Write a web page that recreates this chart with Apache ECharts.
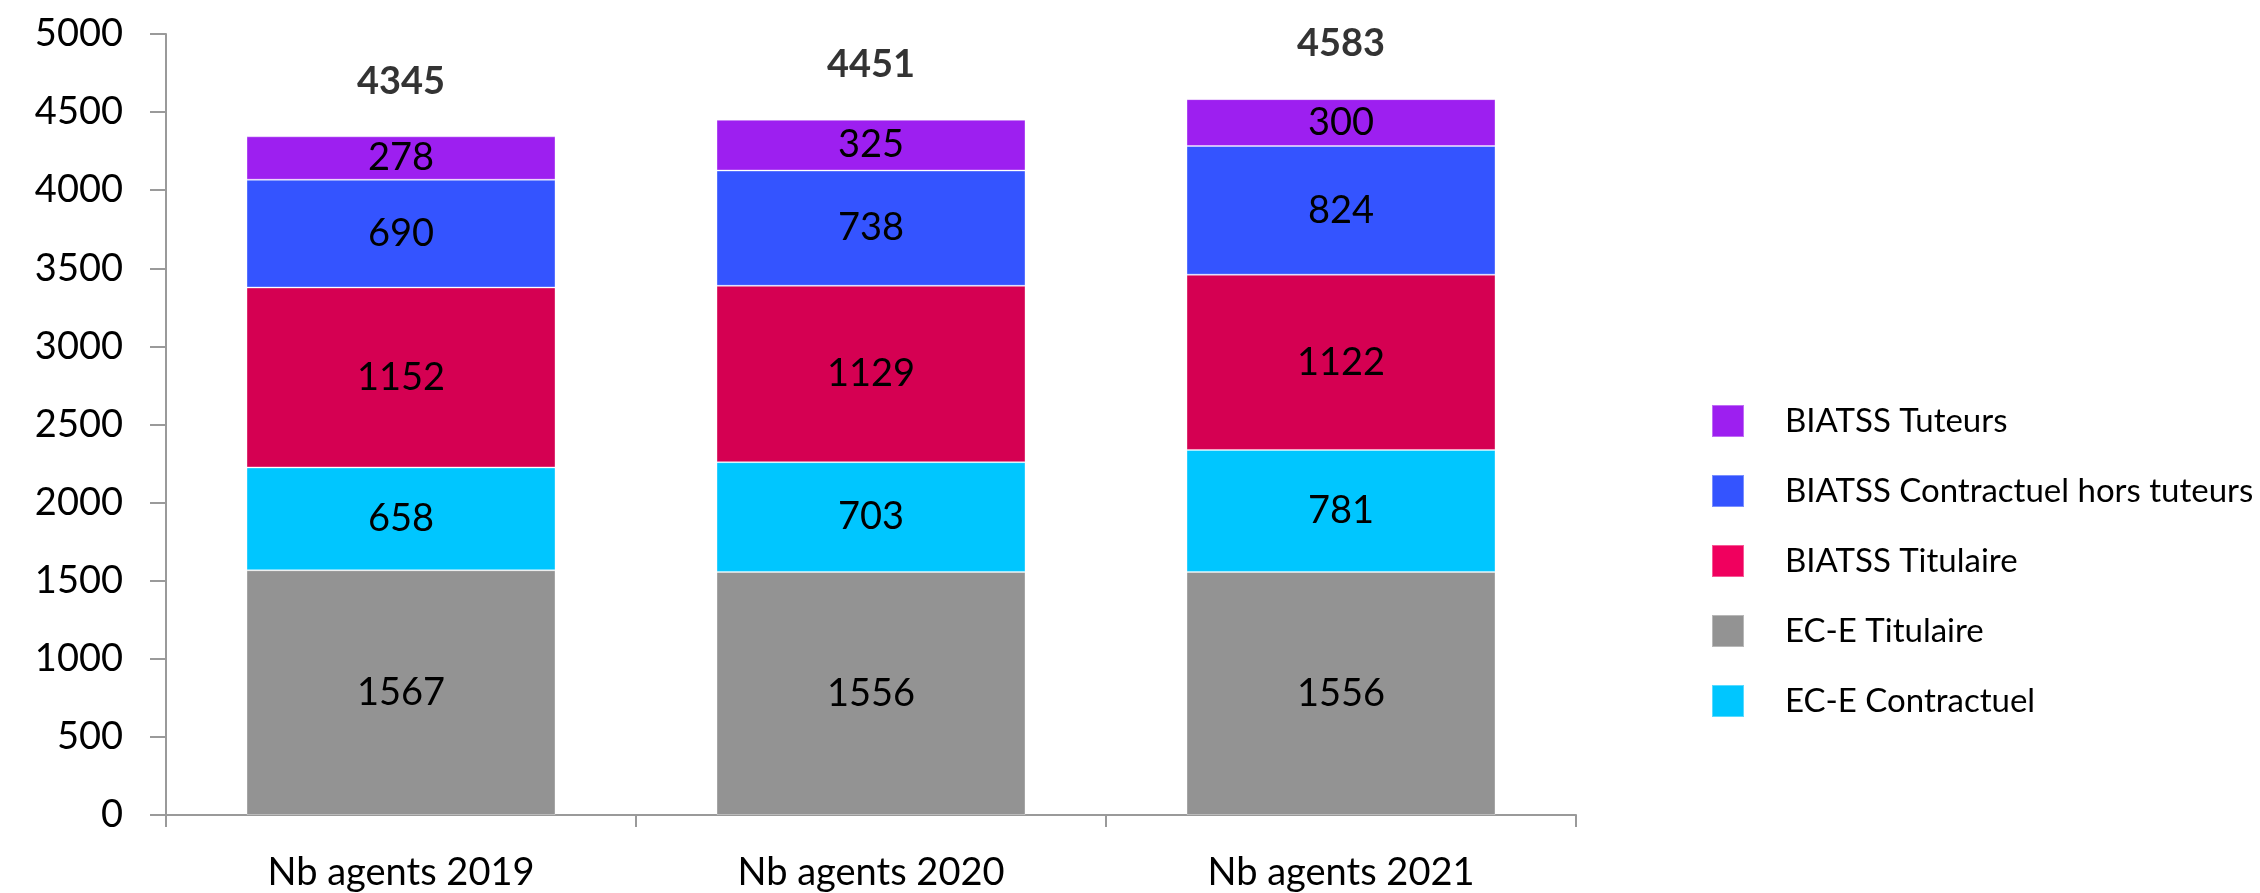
<!DOCTYPE html>
<html>
<head>
<meta charset="utf-8">
<script src="https://cdn.jsdelivr.net/npm/echarts@6/dist/echarts.min.js"></script>
<style>
  html, body { margin: 0; padding: 0; background: #fff; }
  #chart { width: 2260px; height: 893px; }
</style>
</head>
<body>
<div id="chart"></div>
<script>
// effectifs par catégorie
const categories = ["Nb agents 2019", "Nb agents 2020", "Nb agents 2021"];
const eceTitulaire = [1567, 1556, 1556];
const eceContractuel = [658, 703, 781];
const biatssTitulaire = [1152, 1129, 1122];
const biatssContractuel = [690, 738, 824];
const biatssTuteurs = [278, 325, 300];
const totals = [4345, 4451, 4583];

const FONT = "Lato";

const chart = echarts.init(document.getElementById("chart"));

function stackSeries(name, data, color) {
  return {
    name: name,
    type: "bar",
    stack: "total",
    data: data,
    barWidth: 309,
    itemStyle: {color: color, borderColor: "rgba(255,255,255,0.35)", borderWidth: 1},
    label: {show: true, position: "inside", color: "#000", fontFamily: FONT, fontSize: 38},
  };
}

chart.setOption({
  animation: false,
  textStyle: {fontFamily: FONT},
  grid: {left: 166, right: 684, top: 34, bottom: 78},
  legend: {
    orient: "vertical",
    left: 1706,
    top: 399,
    itemWidth: 32,
    itemHeight: 32,
    itemGap: 36,
    icon: "rect",
    textStyle: {fontFamily: FONT, fontSize: 33, color: "#000", lineHeight: 32, padding: [0, 0, 0, 36]},
    data: [
      "BIATSS Tuteurs",
      "BIATSS Contractuel hors tuteurs",
      {name: "BIATSS Titulaire", itemStyle: {color: "#F0005E"}},
      "EC-E Titulaire",
      "EC-E Contractuel",
    ],
  },
  xAxis: {
    type: "category",
    data: categories,
    axisLine: {lineStyle: {color: "#9a9a9a", width: 2}},
    axisTick: {show: true, length: 12, lineStyle: {color: "#9a9a9a", width: 2}},
    axisLabel: {color: "#000", fontFamily: FONT, fontSize: 38, margin: 39},
  },
  yAxis: {
    type: "value",
    min: 0,
    max: 5000,
    interval: 500,
    splitLine: {show: false},
    axisLine: {show: true, lineStyle: {color: "#9a9a9a", width: 2}},
    axisTick: {show: true, length: 16, lineStyle: {color: "#9a9a9a", width: 2}},
    axisLabel: {color: "#000", fontFamily: FONT, fontSize: 38, margin: 43, formatter: v => String(v)},
  },
  series: [
    stackSeries("EC-E Titulaire", eceTitulaire, "#939393"),
    stackSeries("EC-E Contractuel", eceContractuel, "#00C6FF"),
    stackSeries("BIATSS Titulaire", biatssTitulaire, "#D50052"),
    stackSeries("BIATSS Contractuel hors tuteurs", biatssContractuel, "#3454FF"),
    stackSeries("BIATSS Tuteurs", biatssTuteurs, "#9D1FF0"),
    {
      name: "Total",
      type: "scatter",
      data: totals,
      symbolSize: 0,
      silent: true,
      itemStyle: {color: "transparent"},
      label: {
        show: true,
        position: "inside",
        offset: [0, -55],
        color: "#000",
        fontFamily: FONT,
        fontSize: 38,
        fontWeight: "bold",
      },
    },
  ],
});
</script>
</body>
</html>
